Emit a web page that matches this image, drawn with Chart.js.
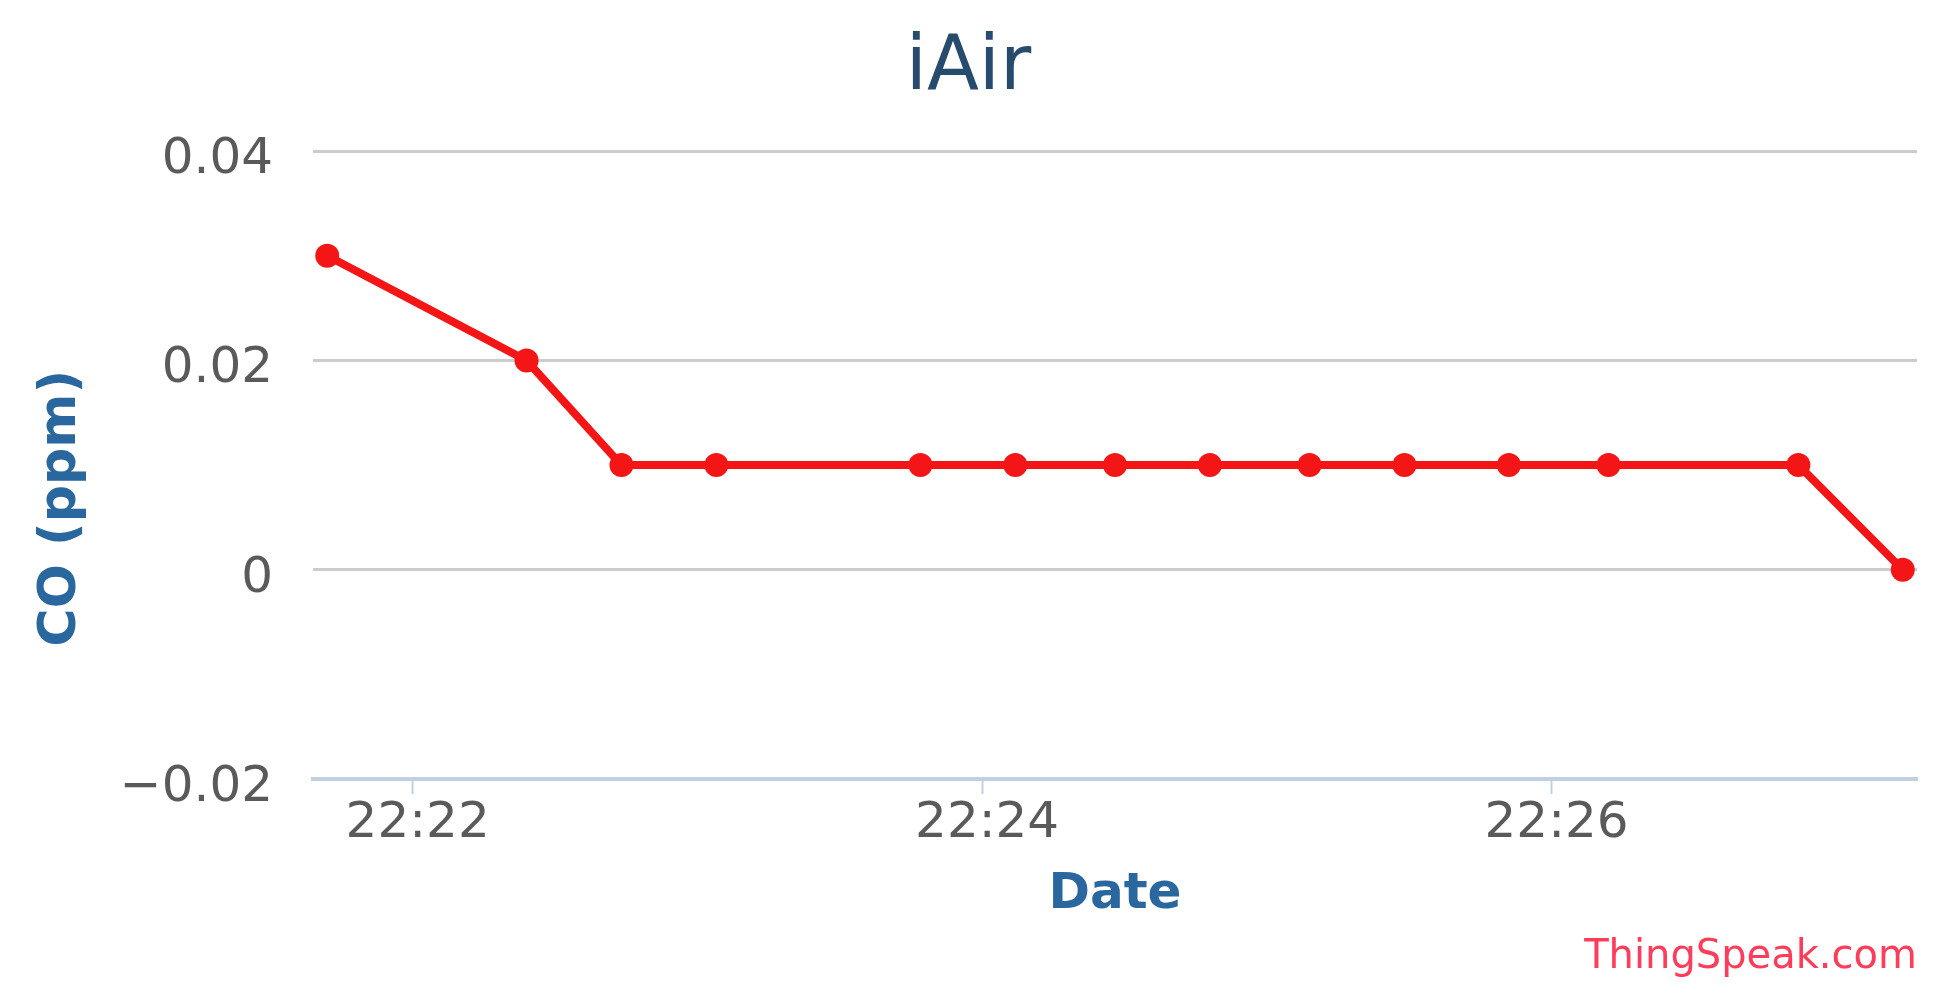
<!DOCTYPE html>
<html>
<head>
<meta charset="utf-8">
<script src="https://cdn.jsdelivr.net/npm/chart.js@4/dist/chart.umd.min.js"></script>
<style>
  html, body { margin: 0; padding: 0; background: #ffffff; }
  #wrap { width: 1958px; height: 1004px; }
</style>
</head>
<body>
<div id="wrap"><canvas id="c" width="1958" height="1004"></canvas></div>
<script>
// ---- data ----
const chartTitle = 'iAir';
const yAxisTitle = 'CO (ppm)';
const xAxisTitle = 'Date';
const creditText = 'ThingSpeak.com';
const times = ['22:21:42', '22:22:24', '22:22:44', '22:23:04', '22:23:47', '22:24:07', '22:24:28',
               '22:24:48', '22:25:09', '22:25:29', '22:25:51', '22:26:12', '22:26:52', '22:27:14'];
const coPpm = [0.03, 0.02, 0.01, 0.01, 0.01, 0.01, 0.01, 0.01, 0.01, 0.01, 0.01, 0.01, 0.01, 0.0];
const xTickLabels = ['22:22', '22:24', '22:26'];
const yTickValues = [-0.02, 0, 0.02, 0.04];
const xRange = ['22:21:39', '22:27:17'];

// ---- helpers ----
function toSec(t) {
  const p = t.split(':').map(Number);
  return p[0] * 3600 + p[1] * 60 + (p[2] || 0);
}
function fmtTime(s) {
  const h = Math.floor(s / 3600), m = Math.floor((s % 3600) / 60);
  return String(h).padStart(2, '0') + ':' + String(m).padStart(2, '0');
}
function fmtY(v) {
  if (Math.abs(v) < 1e-9) return '0';
  const s = Math.abs(v).toFixed(2);
  return (v < 0 ? '\u2212' : '') + s;
}

const points = times.map((t, i) => ({ x: toSec(t), y: coPpm[i] }));
const FONT = "'DejaVu Sans', Verdana, sans-serif";
const RED = 'rgb(244,22,22)';

// y-axis title drawn beside the axis (slightly below the axis middle, as in the reference)
const yTitlePlugin = {
  id: 'yTitle',
  afterDraw(chart) {
    const { ctx, chartArea } = chart;
    ctx.save();
    ctx.fillStyle = '#2a679f';
    ctx.font = "bold 52px " + FONT;
    ctx.textAlign = 'center';
    ctx.textBaseline = 'middle';
    ctx.translate(61, (chartArea.top + chartArea.bottom) / 2 + 43);
    ctx.rotate(-Math.PI / 2);
    ctx.fillText(yAxisTitle, 0, 0);
    ctx.restore();
  }
};

new Chart(document.getElementById('c'), {
  type: 'line',
  data: {
    datasets: [{
      label: 'CO',
      data: points,
      borderColor: RED,
      backgroundColor: RED,
      borderWidth: 8,
      pointRadius: 12,
      pointBorderWidth: 0,
      pointBackgroundColor: RED,
      tension: 0,
      fill: false
    }]
  },
  plugins: [yTitlePlugin],
  options: {
    responsive: false,
    animation: false,
    layout: { padding: { left: 20, right: 41, top: 0, bottom: 0 } },
    plugins: {
      legend: { display: false },
      tooltip: { enabled: false },
      title: {
        display: true,
        text: chartTitle,
        color: '#274b6d',
        font: { family: FONT, size: 76, weight: 'normal', lineHeight: 1.2 },
        padding: { top: 24, bottom: 36 }
      },
      subtitle: {
        display: true,
        text: creditText,
        position: 'bottom',
        align: 'end',
        color: '#ff3c5a',
        font: { family: FONT, size: 40, weight: 'normal', lineHeight: 1.2 },
        padding: { top: 0, bottom: 22 }
      }
    },
    scales: {
      x: {
        type: 'linear',
        min: toSec(xRange[0]),
        max: toSec(xRange[1]),
        afterBuildTicks: (scale) => {
          scale.ticks = xTickLabels.map(l => ({ value: toSec(l) }));
        },
        ticks: {
          callback: (v) => fmtTime(v),
          color: '#5a5a5a',
          font: { family: FONT, size: 50 },
          padding: 0,
          labelOffset: 5,
          maxRotation: 0,
          autoSkip: false
        },
        grid: {
          display: true,
          drawOnChartArea: false,
          drawTicks: true,
          tickLength: 15,
          tickWidth: 2,
          tickColor: '#c0d0e0',
          color: '#c0d0e0'
        },
        border: { display: true, color: '#c0d0e0', width: 4 },
        title: {
          display: true,
          text: xAxisTitle,
          color: '#2a679f',
          font: { family: FONT, size: 50, weight: 'bold', lineHeight: 1.2 },
          padding: { top: 11, bottom: 9 }
        }
      },
      y: {
        min: yTickValues[0],
        max: yTickValues[yTickValues.length - 1],
        afterBuildTicks: (scale) => {
          scale.ticks = yTickValues.map(v => ({ value: v }));
        },
        afterFit: (scale) => { scale.width = 293; },
        ticks: {
          callback: (v) => fmtY(v),
          color: '#5a5a5a',
          font: { family: FONT, size: 50 },
          padding: 40,
          labelOffset: 9
        },
        grid: {
          display: true,
          drawTicks: false,
          color: '#cccccc',
          lineWidth: 3
        },
        border: { display: false },
        title: { display: false }
      }
    }
  }
});
</script>
</body>
</html>
